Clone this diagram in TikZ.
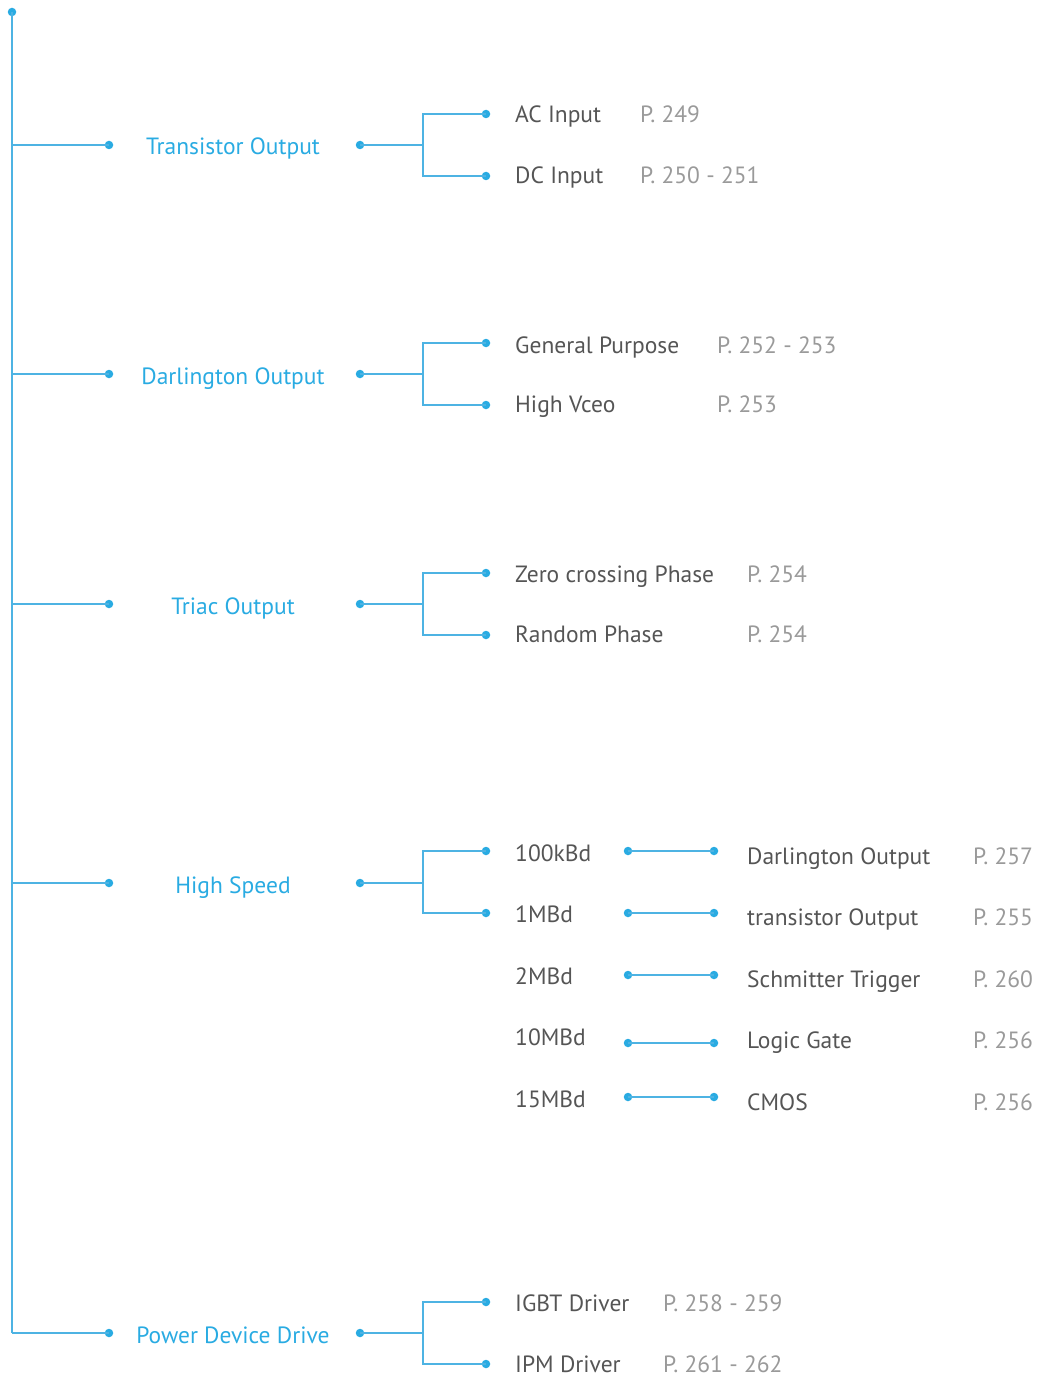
\documentclass[tikz,border=0pt]{standalone}
\usepackage{fontspec}
\setmainfont{PT Sans}
\definecolor{lblue}{HTML}{29ABE2}
\definecolor{lline}{HTML}{4DB3E3}
\definecolor{dgray}{HTML}{555555}
\definecolor{pgray}{HTML}{9A9A9A}
\begin{document}
\begin{tikzpicture}[x=1pt,y=-1pt,
  conn/.style={draw=lline,line width=1.6pt},
  dotn/.style={circle,fill=lblue,inner sep=0pt,minimum size=8.5pt},
  cat/.style={font=\fontsize{23.5}{26}\selectfont,text=lblue,anchor=mid,inner sep=0pt,text depth=0pt,yshift=-6.5pt},
  item/.style={font=\fontsize{23.5}{26}\selectfont,text=dgray,anchor=mid west,inner sep=0pt,text depth=0pt,yshift=-6.5pt},
  page/.style={font=\fontsize{23.5}{26}\selectfont,text=pgray,anchor=mid west,inner sep=0pt,text depth=0pt,yshift=-6.5pt}]
\useasboundingbox (0,0) rectangle (1038,1375);
% trunk
\node[dotn] (top) at (12,12) {};
\coordinate (bot) at (12,1333);
\draw[conn] (top.center) -- (bot);
% categories
\foreach \n/\y/\a/\b/\t in {t/145/114/176/Transistor Output, d/374/343/405/Darlington Output, r/604/573/635/Triac Output, h/883/851/913/High Speed, p/1333/1302/1364/Power Device Drive}{
  \coordinate (\n j) at (12,\y);
  \node[dotn] (\n l) at (109,\y) {};
  \node[cat] (\n c) at (233,\y+1) {\t};
  \node[dotn] (\n r) at (360,\y) {};
  \coordinate (\n s) at (423,\y);
  \coordinate (\n s1) at (423,\a);
  \coordinate (\n s2) at (423,\b);
  \node[dotn] (\n a) at (486,\a) {};
  \node[dotn] (\n b) at (486,\b) {};
  \draw[conn] (\n j) -- (\n l.center);
  \draw[conn] (\n r.center) -- (\n s);
  \draw[conn] (\n a.center) -- (\n s1) -- (\n s2) -- (\n b.center);
}
% items
\node[item] (i1) at (515,114) {AC Input};
\node[item] (i2) at (515,175) {DC Input};
\node[page] (p1) at (640,114) {P. 249};
\node[page] (p2) at (640,175) {P. 250 - 251};
\node[item] (i3) at (515,344) {General Purpose};
\node[item] (i4) at (515,403) {High Vceo};
\node[page] (p3) at (717,344) {P. 252 - 253};
\node[page] (p4) at (717,403) {P. 253};
\node[item] (i5) at (515,573) {Zero crossing Phase};
\node[item] (i6) at (515,633) {Random Phase};
\node[page] (p5) at (747,573) {P. 254};
\node[page] (p6) at (747,633) {P. 254};
\node[item] (i7) at (515,1302) {IGBT Driver};
\node[item] (i8) at (515,1363) {IPM Driver};
\node[page] (p7) at (663,1302) {P. 258 - 259};
\node[page] (p8) at (663,1363) {P. 261 - 262};
% high speed sub rows
\foreach \k/\y/\dy/\ly/\s/\t/\pg in {1/852/851/855/100kBd/Darlington Output/P. 257, 2/913/913/916/1MBd/transistor Output/P. 255, 3/975/975/978/2MBd/Schmitter Trigger/P. 260, 4/1036/1043/1039/10MBd/Logic Gate/P. 256, 5/1098/1097/1101/15MBd/CMOS/P. 256}{
  \node[item] (s\k) at (515,\y) {\s};
  \node[dotn] (sa\k) at (628,\dy) {};
  \node[dotn] (sb\k) at (714,\dy) {};
  \draw[conn] (sa\k.center) -- (sb\k.center);
  \node[item] (sl\k) at (747,\ly) {\t};
  \node[page] (sp\k) at (973,\ly) {\pg};
}
\end{tikzpicture}
\end{document}
